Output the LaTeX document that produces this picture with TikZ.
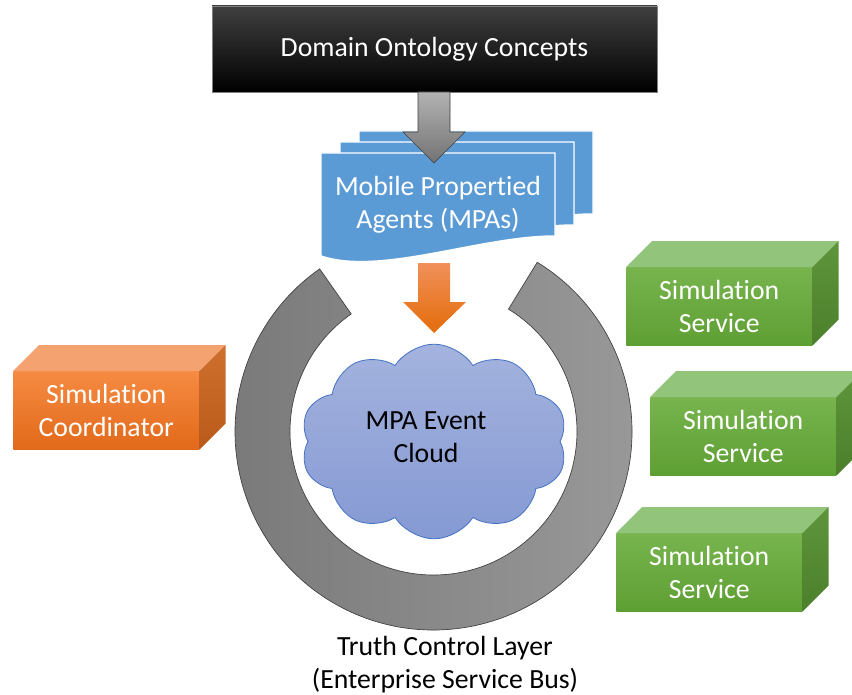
\documentclass[tikz,border=0pt]{standalone}
\usepackage{fontspec}
\setmainfont[Ligatures=NoCommon]{Carlito}
\usetikzlibrary{shapes.symbols}
\definecolor{docblue}{HTML}{5B9BD5}
\definecolor{greenfa}{HTML}{77B44E}
\definecolor{greenfb}{HTML}{5E9F33}
\definecolor{greentop}{HTML}{93C47B}
\definecolor{greenra}{HTML}{5E953B}
\definecolor{greenrb}{HTML}{4C7F2B}
\definecolor{orangefa}{HTML}{F58B42}
\definecolor{orangefb}{HTML}{E2691A}
\definecolor{orangetop}{HTML}{F3A270}
\definecolor{orangera}{HTML}{D0702E}
\definecolor{orangerb}{HTML}{B95A1A}
\definecolor{arrowora}{HTML}{F0905A}
\definecolor{arroworb}{HTML}{E46C0A}
\definecolor{cloudA}{HTML}{A4B3DE}
\definecolor{cloudB}{HTML}{8599D3}
\definecolor{cloudline}{HTML}{4472C4}
\definecolor{ringdark}{HTML}{7A7A7A}
\definecolor{ringlight}{HTML}{9A9A9A}
\newcommand\simcube[5]{%
  \node[cubefront=#4, anchor=north west] (#1) at (#2,#3) {#5};
  \fill[#4top] (#1.north west) -- ++(26,-26) -- ([shift={(26,-26)}]#1.north east) -- (#1.north east) -- cycle;
  \shade[top color=#4ra, bottom color=#4rb] (#1.north east) -- ++(26,-26) -- ([shift={(26,-26)}]#1.south east) -- (#1.south east) -- cycle;
}
\newcommand\docpage{%
  (321,153) -- (555,153) -- (555,236) .. controls (480,236) and (380,276) .. (321,256) -- cycle}
\begin{document}
\begin{tikzpicture}[x=0.75pt,y=-0.75pt,
  txt/.style={font=\fontsize{20.8}{24.75}\selectfont, align=center},
  cubefront/.style={txt, text=white, minimum width=139.5pt, minimum height=58.5pt, inner sep=0pt,
    top color=#1fa, bottom color=#1fb},
  docsheet/.style={fill=docblue, draw=white, line width=1.1pt},
  blockarrow/.style={line width=0.5pt}]
\clip (0,0) rectangle (852,695);
\fill[white] (0,0) rectangle (852,695);

% Domain Ontology Concepts
\node[txt, text=white, minimum width=333.75pt, minimum height=64.5pt, inner sep=0pt,
  top color=black!75, middle color=black, bottom color=black, draw=black!50, line width=0.5pt]
  (onto) at (434.5,49) {Domain Ontology Concepts};

% multi-document stack
\begin{scope}[shift={(38,-22)}]\path[docsheet] \docpage;\end{scope}
\begin{scope}[shift={(19,-11)}]\path[docsheet] \docpage;\end{scope}
\path[docsheet] \docpage;
\node[txt, text=white] (mpa) at (438,205) {Mobile Propertied\\Agents (MPAs)};

% gray block arrow
\shade[blockarrow, top color=black!30, bottom color=black!55, draw=black!75]
  (418,92) -- (450,92) -- (450,132) -- (465,132) -- (434,163) -- (403,132) -- (418,132) -- cycle;

% ring (Truth Control Layer)
\begin{scope}[shift={(433.5,431.5)}, yscale=-1]
\shade[left color=ringdark, right color=ringlight, draw=black!75, line width=0.5pt]
  (58.5:198.5) arc[start angle=58.5, end angle=-235, radius=198.5]
  -- (-235:143.5) arc[start angle=-235, end angle=58.5, radius=143.5] -- cycle;
\end{scope}
\node[txt] (tcl) at (445,665) {Truth Control Layer\\(Enterprise Service Bus)};

% orange block arrow
\shade[top color=arrowora, bottom color=arroworb]
  (418,263) -- (450,263) -- (450,302) -- (466,302) -- (434,333) -- (403,302) -- (418,302) -- cycle;

% cloud
\node[cloud, cloud puffs=10, cloud puff arc=115, aspect=1.37, minimum width=200pt, minimum height=146pt,
  inner sep=0pt, top color=cloudA, bottom color=cloudB, draw=cloudline, line width=0.6pt]
  (cloud) at (434,441.5) {};
\node[txt] (cloudtxt) at (426,437) {MPA Event\\Cloud};

% cubes
\simcube{coord}{13}{371}{orange}{Simulation\\Coordinator}
\simcube{svcA}{626}{267}{green}{Simulation\\Service}
\simcube{svcB}{650}{397}{green}{Simulation\\Service}
\simcube{svcC}{616}{533}{green}{Simulation\\Service}
\end{tikzpicture}
\end{document}
